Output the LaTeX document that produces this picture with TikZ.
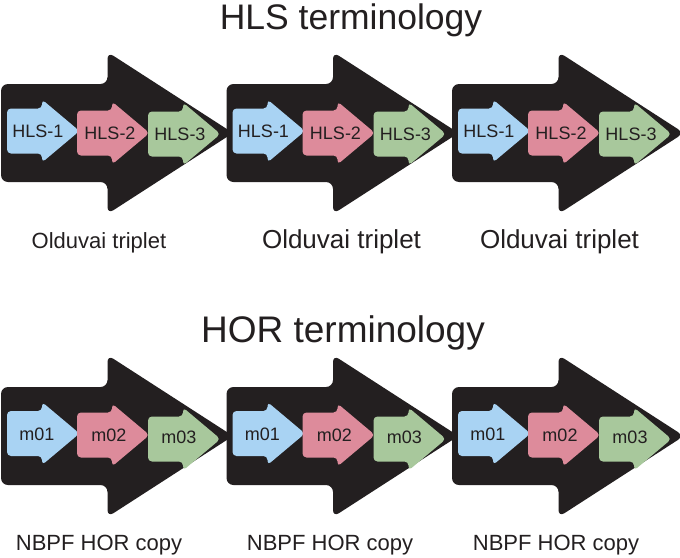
\documentclass[tikz,border=0pt]{standalone}
\usepackage{fontspec}
\setmainfont{Liberation Sans}
\definecolor{bk}{HTML}{231F20}
\definecolor{hblue}{HTML}{A9D3F3}
\definecolor{hpink}{HTML}{DD8B9B}
\definecolor{hgreen}{HTML}{A8C89C}
\newcommand\mybigarr[2]{%
  \fill[bigarrow] ({#1},{#2-49}) -- ({#1+106.5},{#2-49}) -- ({#1+106.5},{#2-81})
    -- ({#1+232},{#2}) -- ({#1+106.5},{#2+81}) -- ({#1+106.5},{#2+49})
    -- ({#1},{#2+49}) -- cycle;}
\newcommand\mysmallarr[3]{%
  \fill[smallarrow,#1] ({#2},{#3-22.5}) -- ({#2+35},{#3-22.5}) -- ({#2+35},{#3-31.5})
    -- ({#2+72.5},{#3}) -- ({#2+35},{#3+31.5}) -- ({#2+35},{#3+22.5})
    -- ({#2},{#3+22.5}) -- cycle;}
\begin{document}
\begin{tikzpicture}[x=1pt,y=-1pt]
\tikzset{
  bigarrow/.style={fill=bk, rounded corners=7pt},
  smallarrow/.style={rounded corners=4pt},
  intext/.style={text=bk, font=\fontsize{18}{21}\selectfont, inner sep=0pt},
  lab/.style={text=bk, inner sep=0pt, anchor=base},
  ttl/.style={text=bk, inner sep=0pt, anchor=base},
}
\useasboundingbox (0,0) rectangle (680,557);
\fill[white] (0,0) rectangle (680,557);

\node[ttl, font=\fontsize{35.5}{40}\selectfont] (title-hls) at (351,29) {HLS terminology};
\node[ttl, font=\fontsize{37}{42}\selectfont] (title-hor) at (343,342) {HOR terminology};

\foreach \k in {0,1,2}{
  \pgfmathsetmacro\L{1+225.5*\k}
  \mybigarr{\L}{133}
  \mybigarr{\L}{436}
  % top row
  \mysmallarr{hblue}{\L+6}{131}
  \mysmallarr{hpink}{\L+76}{133}
  \mysmallarr{hgreen}{\L+147}{134}
  \node[intext] (hls1-\k) at ({\L+6+31},131.5) {HLS-1};
  \node[intext] (hls2-\k) at ({\L+76+33},133.5) {HLS-2};
  \node[intext] (hls3-\k) at ({\L+147+32},134) {HLS-3};
  % bottom row
  \mysmallarr{hblue}{\L+6}{433.5}
  \mysmallarr{hpink}{\L+76}{435}
  \mysmallarr{hgreen}{\L+147}{439}
  \node[intext] (m01-\k) at ({\L+6+30},434) {m01};
  \node[intext] (m02-\k) at ({\L+76+32},435) {m02};
  \node[intext] (m03-\k) at ({\L+147+31},437) {m03};
}

\node[lab, font=\fontsize{22}{26}\selectfont] (old-1) at (99,248) {Olduvai triplet};
\node[lab, font=\fontsize{26}{30}\selectfont] (old-2) at (341.5,248) {Olduvai triplet};
\node[lab, font=\fontsize{26}{30}\selectfont] (old-3) at (559.5,248) {Olduvai triplet};

\node[lab, font=\fontsize{22}{26}\selectfont] (nbpf-1) at (99,550) {NBPF HOR copy};
\node[lab, font=\fontsize{22}{26}\selectfont] (nbpf-2) at (330,550) {NBPF HOR copy};
\node[lab, font=\fontsize{22}{26}\selectfont] (nbpf-3) at (556,550) {NBPF HOR copy};
\end{tikzpicture}
\end{document}
